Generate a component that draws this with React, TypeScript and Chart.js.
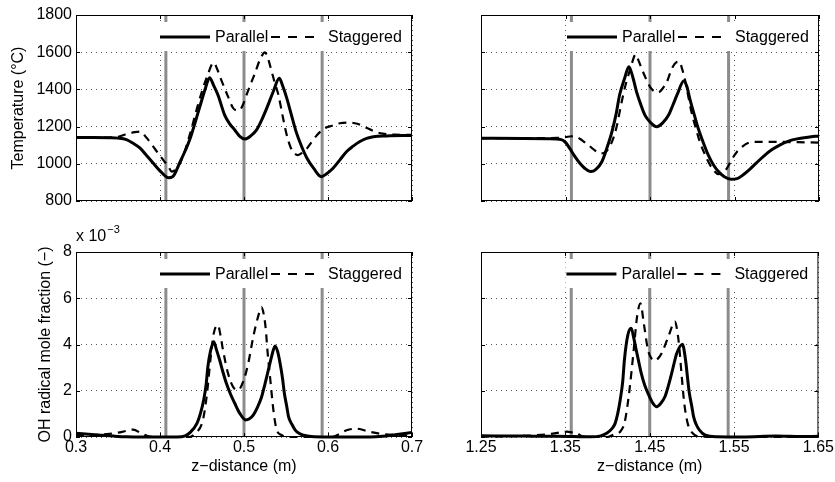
import { useEffect, useRef } from "react";
import { Chart, registerables } from "chart.js";

Chart.register(...registerables);

const FONT = "'Liberation Sans', Arial, Helvetica, sans-serif";
const FS = 16;

// ---------- data: top-left (temperature, 0.3-0.7 m) ----------
const zParTL = [0.300, 0.320, 0.340, 0.350, 0.360, 0.368, 0.376, 0.384, 0.392, 0.400, 0.406, 0.410, 0.415, 0.424, 0.430, 0.436, 0.442, 0.448, 0.454, 0.459, 0.464, 0.469, 0.477, 0.483, 0.489, 0.495, 0.501, 0.508, 0.515, 0.521, 0.527, 0.535, 0.542, 0.546, 0.551, 0.556, 0.562, 0.568, 0.575, 0.583, 0.592, 0.598, 0.606, 0.614, 0.622, 0.630, 0.638, 0.646, 0.654, 0.670, 0.700];
const tParTL = [1141, 1141, 1140, 1138, 1130, 1110, 1085, 1045, 1003, 962, 935, 925, 930, 1011, 1070, 1137, 1225, 1316, 1405, 1463, 1420, 1370, 1262, 1215, 1182, 1148, 1133, 1150, 1182, 1235, 1298, 1390, 1460, 1420, 1352, 1270, 1173, 1100, 1030, 975, 931, 945, 976, 1020, 1065, 1095, 1120, 1137, 1146, 1150, 1152];
const zStgTL = [0.300, 0.330, 0.350, 0.360, 0.370, 0.376, 0.384, 0.392, 0.398, 0.404, 0.410, 0.414, 0.420, 0.428, 0.436, 0.444, 0.450, 0.456, 0.464, 0.468, 0.473, 0.481, 0.487, 0.491, 0.495, 0.499, 0.503, 0.508, 0.513, 0.519, 0.525, 0.529, 0.533, 0.537, 0.541, 0.545, 0.549, 0.553, 0.557, 0.564, 0.570, 0.575, 0.581, 0.587, 0.596, 0.605, 0.614, 0.625, 0.635, 0.645, 0.655, 0.665, 0.680, 0.700];
const tStgTL = [1141, 1141, 1145, 1160, 1170, 1173, 1140, 1092, 1055, 1020, 985, 958, 975, 1047, 1165, 1298, 1390, 1468, 1544, 1510, 1450, 1361, 1300, 1288, 1290, 1320, 1370, 1430, 1486, 1560, 1599, 1560, 1495, 1430, 1370, 1280, 1191, 1120, 1074, 1047, 1062, 1083, 1120, 1155, 1191, 1205, 1218, 1222, 1215, 1195, 1175, 1162, 1157, 1155];

// ---------- data: top-right (temperature, 1.25-1.65 m) ----------
const zParTR = [1.250, 1.300, 1.330, 1.345, 1.350, 1.355, 1.361, 1.367, 1.373, 1.380, 1.386, 1.393, 1.399, 1.405, 1.410, 1.414, 1.420, 1.425, 1.430, 1.434, 1.439, 1.444, 1.450, 1.458, 1.465, 1.472, 1.477, 1.482, 1.490, 1.494, 1.497, 1.502, 1.507, 1.513, 1.519, 1.525, 1.531, 1.538, 1.546, 1.553, 1.560, 1.568, 1.576, 1.584, 1.594, 1.604, 1.614, 1.624, 1.637, 1.650];
const tParTR = [1137, 1136, 1135, 1130, 1115, 1083, 1040, 1003, 975, 958, 970, 1011, 1085, 1173, 1270, 1370, 1460, 1522, 1460, 1388, 1320, 1262, 1225, 1199, 1220, 1262, 1315, 1370, 1445, 1410, 1352, 1270, 1191, 1115, 1047, 995, 958, 930, 917, 920, 940, 970, 1005, 1039, 1075, 1102, 1122, 1134, 1143, 1150];
const zStgTR = [1.250, 1.300, 1.340, 1.350, 1.357, 1.363, 1.370, 1.377, 1.384, 1.391, 1.396, 1.401, 1.406, 1.411, 1.415, 1.420, 1.424, 1.428, 1.433, 1.436, 1.440, 1.445, 1.450, 1.455, 1.460, 1.465, 1.470, 1.474, 1.477, 1.481, 1.485, 1.488, 1.491, 1.495, 1.499, 1.504, 1.509, 1.515, 1.521, 1.526, 1.531, 1.536, 1.541, 1.547, 1.553, 1.560, 1.566, 1.575, 1.600, 1.625, 1.650];
const tStgTR = [1138, 1138, 1139, 1143, 1148, 1145, 1125, 1101, 1075, 1056, 1060, 1083, 1130, 1208, 1300, 1405, 1470, 1531, 1588, 1560, 1513, 1460, 1414, 1390, 1384, 1405, 1441, 1490, 1522, 1545, 1549, 1510, 1460, 1370, 1280, 1195, 1118, 1050, 994, 962, 944, 952, 976, 1025, 1065, 1095, 1112, 1118, 1118, 1116, 1114];

// ---------- data: bottom-left (OH mole fraction x 1e-3, 0.3-0.7 m) ----------
const zParBL = [0.300, 0.315, 0.330, 0.345, 0.360, 0.380, 0.420, 0.430, 0.436, 0.444, 0.448, 0.452, 0.455, 0.457, 0.460, 0.464, 0.467, 0.471, 0.475, 0.479, 0.484, 0.489, 0.495, 0.502, 0.506, 0.511, 0.516, 0.521, 0.525, 0.529, 0.533, 0.537, 0.540, 0.543, 0.546, 0.548, 0.551, 0.553, 0.557, 0.561, 0.566, 0.571, 0.580, 0.600, 0.650, 0.665, 0.680, 0.700];
const ohParBL = [0.16, 0.12, 0.08, 0.04, 0.01, 0, 0, 0.05, 0.2, 0.59, 1.0, 1.6, 2.3, 3.04, 3.69, 4.12, 3.8, 3.33, 2.8, 2.32, 1.85, 1.46, 1.02, 0.74, 0.78, 0.95, 1.28, 1.74, 2.3, 2.9, 3.5, 3.94, 3.7, 3.18, 2.5, 1.9, 1.3, 0.88, 0.55, 0.3, 0.15, 0.08, 0.02, 0, 0, 0.03, 0.1, 0.2];
const zStgBL = [0.300, 0.320, 0.340, 0.355, 0.368, 0.378, 0.386, 0.395, 0.435, 0.442, 0.450, 0.453, 0.456, 0.460, 0.464, 0.469, 0.472, 0.475, 0.481, 0.487, 0.493, 0.499, 0.505, 0.511, 0.516, 0.521, 0.524, 0.526, 0.528, 0.531, 0.535, 0.539, 0.545, 0.550, 0.605, 0.613, 0.622, 0.634, 0.650, 0.666, 0.685, 0.700];
const ohStgBL = [0.07, 0.08, 0.14, 0.22, 0.32, 0.15, 0.03, 0, 0, 0.16, 0.59, 1.1, 1.89, 3.33, 4.48, 4.84, 4.4, 3.76, 2.75, 2.17, 2.03, 2.39, 3.18, 4.33, 5.1, 5.61, 5.2, 4.63, 3.7, 2.6, 1.16, 0.3, 0.08, 0, 0, 0.12, 0.29, 0.36, 0.22, 0.12, 0.08, 0.07];

// ---------- data: bottom-right (OH mole fraction x 1e-3, 1.25-1.65 m) ----------
const zParBR = [1.250, 1.300, 1.340, 1.360, 1.380, 1.392, 1.399, 1.405, 1.409, 1.412, 1.415, 1.418, 1.420, 1.424, 1.428, 1.431, 1.434, 1.437, 1.440, 1.444, 1.448, 1.453, 1.458, 1.463, 1.468, 1.472, 1.476, 1.479, 1.482, 1.489, 1.491, 1.493, 1.495, 1.497, 1.500, 1.502, 1.505, 1.509, 1.516, 1.530, 1.560, 1.600, 1.630, 1.650];
const ohParBR = [0.05, 0.04, 0.03, 0.02, 0.01, 0.05, 0.16, 0.35, 0.59, 1.0, 1.6, 2.4, 3.33, 4.4, 4.7, 4.3, 3.76, 3.25, 2.75, 2.25, 1.89, 1.5, 1.31, 1.45, 1.74, 2.2, 2.75, 3.2, 3.61, 4.01, 3.7, 3.18, 2.5, 1.89, 1.3, 0.88, 0.55, 0.3, 0.08, 0.01, 0, 0.04, 0.02, 0.03];
const zStgBR = [1.250, 1.300, 1.330, 1.345, 1.352, 1.358, 1.363, 1.370, 1.380, 1.400, 1.407, 1.415, 1.420, 1.423, 1.426, 1.431, 1.435, 1.439, 1.443, 1.448, 1.452, 1.456, 1.460, 1.464, 1.472, 1.480, 1.483, 1.485, 1.488, 1.491, 1.495, 1.501, 1.510, 1.530, 1.650];
const ohStgBR = [0.02, 0.05, 0.12, 0.2, 0.23, 0.2, 0.18, 0.03, 0, 0, 0.1, 0.23, 0.59, 1.2, 2.03, 3.76, 5.2, 5.78, 4.91, 3.76, 3.4, 3.3, 3.4, 3.61, 4.33, 4.99, 4.5, 3.9, 2.6, 1.44, 0.59, 0.16, 0.02, 0, 0];

// ---------- dividers, ticks ----------
const dividersLeft = [0.407, 0.5, 0.593];
const dividersRight = [1.357, 1.45, 1.543];
const xTicksLeft = [0.3, 0.4, 0.5, 0.6, 0.7];
const xTickLabelsLeft = ["0.3", "0.4", "0.5", "0.6", "0.7"];
const xTicksRight = [1.25, 1.35, 1.45, 1.55, 1.65];
const xTickLabelsRight = ["1.25", "1.35", "1.45", "1.55", "1.65"];
const yTicksTemp = [800, 1000, 1200, 1400, 1600, 1800];
const yTickLabelsTemp = ["800", "1000", "1200", "1400", "1600", "1800"];
const yTicksOH = [0, 2, 4, 6, 8];
const yTickLabelsOH = ["0", "2", "4", "6", "8"];

const seriesNames = ["Parallel", "Staggered"];
const yTitleTemp = "Temperature (°C)";
const yTitleOH = "OH radical mole fraction (−)";
const xTitle = "z−distance (m)";

const W = 835;
const H = 482;

type Area = { left: number; top: number; right: number; bottom: number };
type PanelCfg = {
  zPar: number[]; vPar: number[]; zStg: number[]; vStg: number[];
  dividers: number[];
  xMin: number; xMax: number; xTicks: number[]; xLabels: string[]; showXLabels: boolean;
  yMin: number; yMax: number; yTicks: number[]; yLabels: string[]; showYLabels: boolean;
  yTitle?: string; yTitlePad: number; xTitle?: string;
  area: Area; exponent?: boolean;
};

const panels: PanelCfg[] = [
  {
    zPar: zParTL, vPar: tParTL, zStg: zStgTL, vStg: tStgTL, dividers: dividersLeft,
    xMin: 0.3, xMax: 0.7, xTicks: xTicksLeft, xLabels: xTickLabelsLeft, showXLabels: false,
    yMin: 800, yMax: 1800, yTicks: yTicksTemp, yLabels: yTickLabelsTemp, showYLabels: true,
    yTitle: yTitleTemp, yTitlePad: 9, area: { left: 76, top: 15, right: 412, bottom: 201 },
  },
  {
    zPar: zParTR, vPar: tParTR, zStg: zStgTR, vStg: tStgTR, dividers: dividersRight,
    xMin: 1.25, xMax: 1.65, xTicks: xTicksRight, xLabels: xTickLabelsRight, showXLabels: false,
    yMin: 800, yMax: 1800, yTicks: yTicksTemp, yLabels: yTickLabelsTemp, showYLabels: false,
    yTitlePad: 0, area: { left: 481, top: 15, right: 819, bottom: 201 },
  },
  {
    zPar: zParBL, vPar: ohParBL, zStg: zStgBL, vStg: ohStgBL, dividers: dividersLeft,
    xMin: 0.3, xMax: 0.7, xTicks: xTicksLeft, xLabels: xTickLabelsLeft, showXLabels: true,
    yMin: 0, yMax: 8, yTicks: yTicksOH, yLabels: yTickLabelsOH, showYLabels: true,
    yTitle: yTitleOH, yTitlePad: 36, xTitle, area: { left: 76, top: 252, right: 412, bottom: 437 },
    exponent: true,
  },
  {
    zPar: zParBR, vPar: ohParBR, zStg: zStgBR, vStg: ohStgBR, dividers: dividersRight,
    xMin: 1.25, xMax: 1.65, xTicks: xTicksRight, xLabels: xTickLabelsRight, showXLabels: true,
    yMin: 0, yMax: 8, yTicks: yTicksOH, yLabels: yTickLabelsOH, showYLabels: false,
    yTitlePad: 0, xTitle, area: { left: 481, top: 252, right: 819, bottom: 437 },
  },
];

const decorPlugin = {
  id: "decor",
  afterDatasetsDraw(chart: any, _args: any, opts: any) {
    const ctx = chart.ctx as CanvasRenderingContext2D;
    const { left, top, right, bottom } = chart.chartArea;
    const xs = chart.scales.x;
    const ys = chart.scales.y;
    ctx.save();
    // frame
    ctx.strokeStyle = "#000";
    ctx.lineWidth = 1;
    ctx.setLineDash([]);
    ctx.strokeRect(left + 0.5, top + 0.5, right - left - 1, bottom - top - 1);
    // inward tick marks
    const tl = 4;
    ctx.beginPath();
    for (const t of xs.ticks) {
      const px = Math.round(xs.getPixelForValue(t.value)) + 0.5;
      ctx.moveTo(px, bottom); ctx.lineTo(px, bottom - tl);
      ctx.moveTo(px, top); ctx.lineTo(px, top + tl);
    }
    for (const t of ys.ticks) {
      const py = Math.round(ys.getPixelForValue(t.value)) + 0.5;
      ctx.moveTo(left, py); ctx.lineTo(left + tl, py);
      ctx.moveTo(right, py); ctx.lineTo(right - tl, py);
    }
    ctx.stroke();

    // legend
    const R = right;
    const T = top;
    ctx.fillStyle = "#fff";
    ctx.fillRect(R - 253, T + 7, 250, 29);
    const ly = T + 22;
    ctx.strokeStyle = "#000";
    ctx.lineWidth = 3;
    ctx.beginPath();
    ctx.moveTo(R - 252, ly); ctx.lineTo(R - 202, ly);
    ctx.stroke();
    ctx.lineWidth = 2.2;
    ctx.setLineDash([9, 8]);
    ctx.beginPath();
    ctx.moveTo(R - 141, ly); ctx.lineTo(R - 97, ly);
    ctx.stroke();
    ctx.setLineDash([]);
    ctx.fillStyle = "#000";
    ctx.font = `${FS}px ${FONT}`;
    ctx.textBaseline = "middle";
    ctx.textAlign = "left";
    ctx.fillText(opts.names[0], R - 197, ly + 1);
    ctx.fillText(opts.names[1], R - 84, ly + 1);

    if (opts.exponent) {
      ctx.textBaseline = "alphabetic";
      ctx.font = `${FS}px ${FONT}`;
      const base = "x 10";
      ctx.fillText(base, 76, 241);
      const w = ctx.measureText(base).width;
      ctx.font = `11px ${FONT}`;
      ctx.fillText("−3", 76 + w + 1, 233);
    }
    ctx.restore();
  },
};

function buildConfig(p: PanelCfg): any {
  const a = p.area;
  const padL = p.showYLabels ? 0 : a.left;
  const padB = p.showXLabels ? 0 : H - a.bottom;
  const toPts = (zs: number[], vs: number[]) => zs.map((z, i) => ({ x: z, y: vs[i] }));
  const dividerSets = p.dividers.map((d) => ({
    data: [{ x: d, y: p.yMin }, { x: d, y: p.yMax }],
    borderColor: "#8c8c8c",
    borderWidth: 3,
    pointRadius: 0,
    fill: false,
    order: 5,
  }));
  const gridOpts = { display: true, color: "rgba(0,0,0,0.65)", lineWidth: 1, drawTicks: false };
  const borderOpts = { display: false, dash: [1, 4] };
  return {
    type: "line",
    data: {
      datasets: [
        {
          label: seriesNames[0],
          data: toPts(p.zPar, p.vPar),
          borderColor: "#000",
          borderWidth: 3,
          pointRadius: 0,
          fill: false,
          cubicInterpolationMode: "monotone",
          clip: 4,
          order: 1,
        },
        {
          label: seriesNames[1],
          data: toPts(p.zStg, p.vStg),
          borderColor: "#000",
          borderWidth: 2.2,
          borderDash: [8, 6],
          pointRadius: 0,
          fill: false,
          cubicInterpolationMode: "monotone",
          clip: 4,
          order: 2,
        },
        ...dividerSets,
      ],
    },
    options: {
      responsive: false,
      animation: false,
      events: [],
      layout: { padding: { left: padL, top: a.top, right: W - a.right, bottom: padB } },
      plugins: {
        legend: { display: false },
        tooltip: { enabled: false },
        decor: { names: seriesNames, exponent: !!p.exponent },
      },
      scales: {
        x: {
          type: "linear",
          min: p.xMin,
          max: p.xMax,
          afterBuildTicks: (s: any) => { s.ticks = p.xTicks.map((v) => ({ value: v })); },
          afterFit: (s: any) => { s.height = H - a.bottom - padB; },
          ticks: {
            display: p.showXLabels,
            color: "#000",
            padding: 1,
            maxRotation: 0,
            autoSkip: false,
            font: { family: FONT, size: FS },
            callback: (_v: any, i: number) => p.xLabels[i],
          },
          grid: gridOpts,
          border: borderOpts,
          title: {
            display: !!p.xTitle,
            text: p.xTitle || "",
            color: "#000",
            font: { family: FONT, size: FS },
            padding: { top: 0, bottom: 6 },
          },
        },
        y: {
          type: "linear",
          min: p.yMin,
          max: p.yMax,
          afterBuildTicks: (s: any) => { s.ticks = p.yTicks.map((v) => ({ value: v })); },
          afterFit: (s: any) => { s.width = a.left - padL; },
          ticks: {
            display: p.showYLabels,
            color: "#000",
            padding: 4,
            autoSkip: false,
            font: { family: FONT, size: FS },
            callback: (_v: any, i: number) => p.yLabels[i],
          },
          grid: gridOpts,
          border: borderOpts,
          title: {
            display: !!p.yTitle,
            text: p.yTitle || "",
            color: "#000",
            font: { family: FONT, size: FS },
            padding: { top: p.yTitlePad, bottom: 0 },
          },
        },
      },
    },
    plugins: [decorPlugin],
  };
}

function Panel({ cfg }: { cfg: PanelCfg }) {
  const ref = useRef<HTMLCanvasElement>(null);
  useEffect(() => {
    const chart = new Chart(ref.current as HTMLCanvasElement, buildConfig(cfg));
    return () => chart.destroy();
  }, [cfg]);
  return (
    <canvas
      ref={ref}
      width={W}
      height={H}
      style={{ position: "absolute", left: 0, top: 0, width: W, height: H }}
    />
  );
}

export default function App() {
  return (
    <div
      style={{
        position: "absolute",
        left: 0,
        top: 0,
        width: W,
        height: H,
        background: "#fff",
        overflow: "hidden",
      }}
    >
      {panels.map((p, i) => (
        <Panel key={i} cfg={p} />
      ))}
    </div>
  );
}
